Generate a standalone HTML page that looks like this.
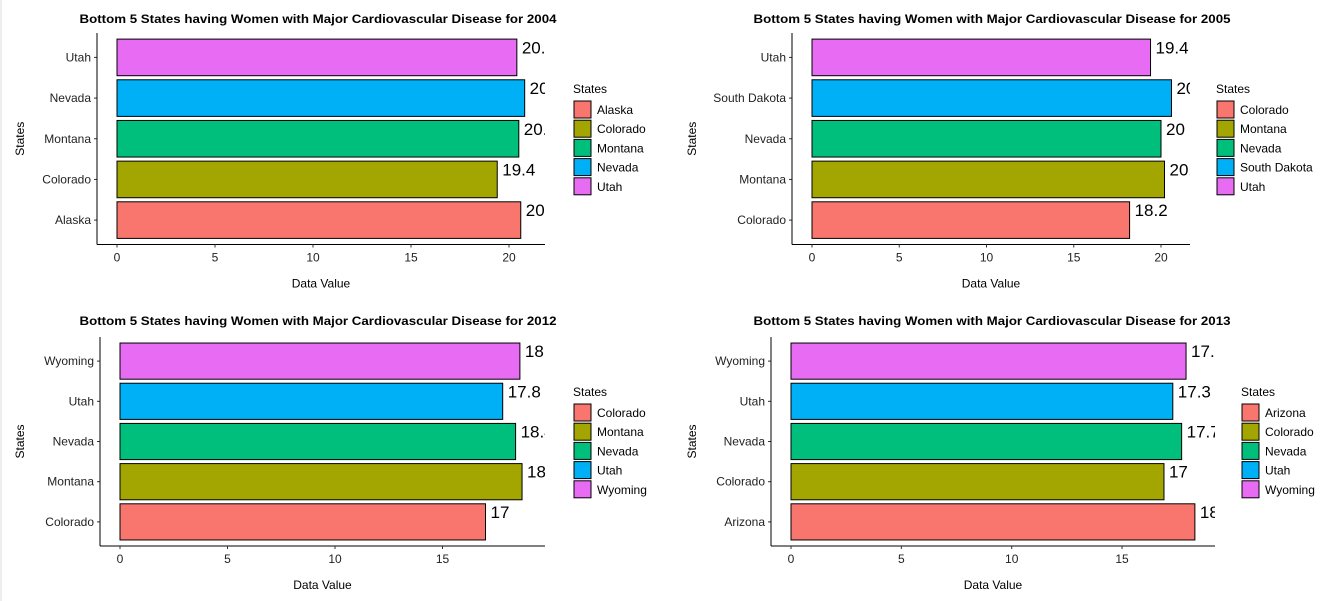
<!DOCTYPE html>
<html><head><meta charset="utf-8"><style>
body{margin:0;background:#fff;}
svg{font-family:"Liberation Sans",Arial,sans-serif;display:block}
</style></head><body>
<svg id="c" width="1337" height="601">
<rect x="0" y="0" width="1337" height="601" fill="#fff"/>
<line x1="1" y1="0" x2="1" y2="601" stroke="#ddd"/>
</svg>
<script>
const colors = ['#F8766D','#A3A500','#00BF7D','#00B0F6','#E76BF3'];
const years = ['2004','2005','2012','2013'];
const cats2004 = ['Alaska','Colorado','Montana','Nevada','Utah'];
const vals2004 = [20.6,19.4,20.5,20.8,20.4];
const labs2004 = ['20.6','19.4','20.5','20.8','20.4'];
const cats2005 = ['Colorado','Montana','Nevada','South Dakota','Utah'];
const vals2005 = [18.2,20.2,20.0,20.6,19.4];
const labs2005 = ['18.2','20.2','20','20.6','19.4'];
const cats2012 = ['Colorado','Montana','Nevada','Utah','Wyoming'];
const vals2012 = [17.0,18.7,18.4,17.8,18.6];
const labs2012 = ['17','18.7','18.4','17.8','18.6'];
const cats2013 = ['Arizona','Colorado','Nevada','Utah','Wyoming'];
const vals2013 = [18.3,16.9,17.7,17.3,17.9];
const labs2013 = ['18.3','17','17.7','17.3','17.9'];
const ticks2004 = [0,5,10,15,20];
const ticks2005 = [0,5,10,15,20];
const ticks2012 = [0,5,10,15];
const ticks2013 = [0,5,10,15];

const panels = [
 {cats:cats2004,vals:vals2004,labs:labs2004,ticks:ticks2004,x0:117,ppu:19.6,left:97,right:545,top:33,bottom:244.5,titleX:318,titleY:23,legX:573,legY:93},
 {cats:cats2005,vals:vals2005,labs:labs2005,ticks:ticks2005,x0:812,ppu:17.45,left:792,right:1190,top:33,bottom:244.5,titleX:992,titleY:23,legX:1216,legY:93},
 {cats:cats2012,vals:vals2012,labs:labs2012,ticks:ticks2012,x0:120,ppu:21.5,left:100,right:545,top:337,bottom:546,titleX:318,titleY:325,legX:573,legY:396},
 {cats:cats2013,vals:vals2013,labs:labs2013,ticks:ticks2013,x0:791,ppu:22.07,left:771,right:1215,top:337,bottom:546,titleX:992,titleY:325,legX:1241,legY:396}
];
const svg = document.getElementById('c');
const NS='http://www.w3.org/2000/svg';
function mk(tag,attrs,parent,text){const e=document.createElementNS(NS,tag);for(const k in attrs)e.setAttribute(k,attrs[k]);if(text!==undefined)e.textContent=text;(parent||svg).appendChild(e);return e;}

panels.forEach((p,pi)=>{
 const g=mk('g',{});
 
 
 const xs=v=>p.x0+v*p.ppu;
 const n=p.cats.length;
 const step=(p.bottom-p.top)/(n+0.2);
 const yc=i=>p.bottom-step*(i+0.6);
 const bh=step*0.9;
 const t=mk('text',{x:p.titleX,y:p.titleY,'text-anchor':'middle','font-size':12,'font-weight':'bold',fill:'#000',textLength:477,lengthAdjust:'spacingAndGlyphs'},g,'Bottom 5 States having Women with Major Cardiovascular Disease for '+years[pi]);
 
 
 const cid='clip'+pi;
 const cp=mk('clipPath',{id:cid},g);
 mk('rect',{x:p.left,y:p.top-20,width:p.right-p.left,height:p.bottom-p.top+20},cp);
 const plot=mk('g',{'clip-path':'url(#'+cid+')'},g);
 p.vals.forEach((v,i)=>{
  const r=mk('rect',{x:xs(0),y:yc(i)-bh/2,width:xs(v)-xs(0),height:bh,fill:colors[i],stroke:'#000','stroke-width':1},plot);
  
  
  const l=mk('text',{x:xs(v)+5,y:yc(i)-4,'font-size':17,fill:'#000'},plot,p.labs[i]);
  
  
  const yl=mk('text',{x:p.left-6,y:yc(i)+4,'text-anchor':'end','font-size':12,fill:'#222'},g,p.cats[i]);
  
  
  mk('line',{x1:p.left-3,x2:p.left,y1:yc(i),y2:yc(i),stroke:'#333'},g);
 });
 mk('line',{x1:p.left,x2:p.left,y1:p.top,y2:p.bottom,stroke:'#000'},g);
 mk('line',{x1:p.left,x2:p.right,y1:p.bottom,y2:p.bottom,stroke:'#000'},g);
 p.ticks.forEach(tk=>{
  mk('line',{x1:xs(tk),x2:xs(tk),y1:p.bottom,y2:p.bottom+3,stroke:'#333'},g);
  const tl=mk('text',{x:xs(tk),y:p.bottom+17,'text-anchor':'middle','font-size':12,fill:'#222'},g,tk);
  
  
 });
 const xt=mk('text',{x:(p.left+p.right)/2,y:p.bottom+43,'text-anchor':'middle','font-size':12,fill:'#000'},g,'Data Value');
 
 
 const yx=pi%2?696:24;
 const yt=mk('text',{x:yx,y:(p.top+p.bottom)/2,'text-anchor':'middle','font-size':12,fill:'#000',transform:'rotate(-90 '+yx+' '+((p.top+p.bottom)/2)+')'},g,'States');
 
 
 const lt=mk('text',{x:p.legX,y:p.legY,'font-size':12,fill:'#000'},g,'States');
 
 
 p.cats.forEach((c,i)=>{
  const ly=p.legY+8+i*19.2;
  const le=mk('g',{},g);
  
  
  mk('rect',{x:p.legX+1,y:ly,width:17,height:17,fill:colors[i],stroke:'#000'},le);
  mk('text',{x:p.legX+24,y:ly+13,'font-size':12,fill:'#000'},le,c);
 });
});
</script>
</body></html>
